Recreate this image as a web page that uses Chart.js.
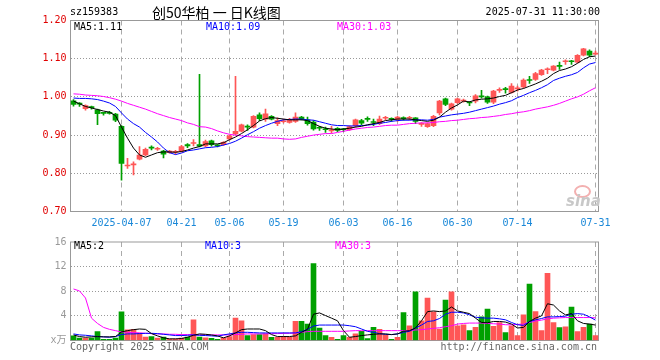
<!DOCTYPE html>
<html lang="zh">
<head>
<meta charset="UTF-8" />
<title>sz159383 日K线图</title>
<script src="https://cdn.jsdelivr.net/npm/chart.js"></script>
<style>
  body { margin: 0; background: #fff; }
  #wrap { position: relative; width: 660px; height: 360px; overflow: hidden;
          font-family: "DejaVu Sans Mono", monospace; font-size: 10px; }
  #wrap canvas { position: absolute; left: 0; }
  .t { position: absolute; white-space: nowrap; line-height: 12px; }
</style>
</head>
<body>
<div id="wrap">
  <canvas id="kline" width="660" height="232" style="top:0"></canvas>
  <canvas id="vol" width="660" height="128" style="top:232px"></canvas>

  <!-- header -->
  <div class="t" style="left:70px;top:6px;color:#000">sz159383</div>
  <div class="t" style="left:152px;top:3px;font-family:'Noto Sans CJK SC';font-size:14px;line-height:18px;color:#000">创50华柏 一 日K线图</div>
  <div class="t" style="right:60px;top:6px;color:#000">2025-07-31 11:30:00</div>

  <!-- MA legends -->
  <div class="t" style="left:74px;top:21px;color:#000">MA5:1.11</div>
  <div class="t" style="left:206px;top:21px;color:#0000ff">MA10:1.09</div>
  <div class="t" style="left:337px;top:21px;color:#ff00ff">MA30:1.03</div>
  <div class="t" style="left:74px;top:240px;color:#000">MA5:2</div>
  <div class="t" style="left:205px;top:240px;color:#0000ff">MA10:3</div>
  <div class="t" style="left:335px;top:240px;color:#ff00ff">MA30:3</div>

  <!-- watermark -->
  <div class="t" style="left:574px;top:185px;width:13px;height:9px;border:2px solid #f3b0b0;border-radius:50%"></div>
  <div class="t" style="left:566px;top:193px;font-family:'DejaVu Sans';font-size:15px;line-height:16px;font-weight:bold;font-style:italic;color:#c8c8c8">sina</div>

  <!-- footer -->
  <div class="t" style="left:70px;top:341px;color:#666">Copyright 2025 SINA.COM</div>
  <div class="t" style="right:63px;top:341px;color:#666">http://finance.sina.com.cn</div>
</div>

<script>
  // trading days shown on the chart
  const dates = [
    '03-25','03-26','03-27','03-28','03-31',
    '04-01','04-02','04-03','04-07','04-08','04-09','04-10','04-11','04-14','04-15','04-16','04-17','04-18',
    '04-21','04-22','04-23','04-24','04-25','04-28','04-29','04-30',
    '05-06','05-07','05-08','05-09','05-12','05-13','05-14','05-15','05-16','05-19','05-20','05-21','05-22','05-23',
    '05-26','05-27','05-28','05-29','05-30',
    '06-03','06-04','06-05','06-06','06-09','06-10','06-11','06-12','06-13','06-16','06-17','06-18','06-19','06-20',
    '06-23','06-24','06-25','06-26','06-27','06-30',
    '07-01','07-02','07-03','07-04','07-07','07-08','07-09','07-10','07-11','07-14','07-15','07-16','07-17','07-18',
    '07-21','07-22','07-23','07-24','07-25','07-28','07-29','07-30','07-31'
  ];
  const tickDates = ['04-07','04-21','05-06','05-19','06-03','06-16','06-30','07-14','07-31'];
  const tickText  = ['2025-04-07','04-21','05-06','05-19','06-03','06-16','06-30','07-14','07-31'];

  const open = [
    .990,.982,.969,.974,.966,.958,.958,.955,.923,.819,.822,.837,.848,.868,.863,.858,.854,.855,.857,.875,.878,.875,
    .872,.885,.873,.875,.890,.903,.910,.922,.921,.953,.942,.949,.930,.935,.933,.936,.947,.940,.934,.920,.916,
    .911,.918,.915,.914,.925,.938,.943,.935,.930,.944,.943,.942,.944,.944,.945,.928,.922,.925,.958,.995,.968,.985,
    .989,.985,.989,1.002,1.000,.986,1.017,1.021,1.012,1.021,1.026,1.045,1.046,1.058,1.071,1.070,1.081,1.092,1.093,1.091,1.109,1.120,1.112
  ];
  const high = [
    .993,.985,.979,.976,.968,.958,.962,.957,.925,.839,.830,.870,.866,.872,.868,.860,.860,.860,.873,.878,.888,1.059,
    .887,.887,.875,.883,.900,1.054,.929,.927,.951,.958,.968,.951,.945,.942,.944,.958,.949,.947,.938,.923,.921,
    .923,.920,.918,.924,.942,.941,.948,.942,.950,.949,.945,.949,.948,.949,.946,.933,.932,.952,.991,.997,.984,.997,
    .994,.988,1.006,1.017,1.002,1.017,1.024,1.025,1.035,1.028,1.047,1.054,1.064,1.072,1.076,1.082,1.091,1.097,1.096,1.111,1.127,1.123,1.120
  ];
  const low = [
    .976,.975,.965,.968,.927,.952,.955,.935,.782,.813,.796,.835,.846,.861,.860,.840,.853,.850,.855,.867,.872,.869,
    .869,.871,.869,.873,.887,.900,.908,.912,.919,.938,.936,.940,.925,.932,.931,.933,.940,.926,.913,.912,.907,
    .905,.909,.909,.912,.921,.927,.936,.925,.927,.940,.936,.936,.939,.940,.930,.923,.920,.922,.953,.977,.965,.983,
    .986,.977,.984,.997,.983,.982,1.012,1.010,1.010,1.015,1.023,1.035,1.043,1.056,1.061,1.068,1.072,1.085,1.085,1.089,1.107,1.105,1.110
  ];
  const close = [
    .980,.981,.977,.972,.956,.957,.957,.939,.826,.820,.824,.848,.863,.866,.864,.850,.858,.856,.870,.872,.880,.871,
    .883,.875,.872,.881,.898,.910,.927,.921,.949,.943,.956,.942,.938,.937,.940,.947,.942,.930,.916,.918,.914,
    .913,.912,.914,.922,.940,.931,.941,.933,.942,.945,.941,.947,.943,.945,.936,.929,.930,.949,.989,.980,.982,.995,
    .991,.984,1.003,1.000,.986,1.015,1.019,1.019,1.028,1.022,1.044,1.043,1.061,1.070,1.072,1.081,1.080,1.093,1.092,1.109,1.126,1.109,1.114
  ];

  // moving averages as drawn on the price panel
  const ma5 = [
    .989,.982,.975,.971,.967,.963,.960,.951,.921,.892,.866,.848,.842,.848,.854,.856,.856,.855,.857,.861,.866,.870,
    .877,.877,.877,.880,.888,.895,.904,.914,.925,.937,.943,.946,.944,.942,.940,.940,.940,.938,.930,.923,.918,
    .916,.914,.916,.918,.921,.923,.927,.930,.933,.938,.940,.942,.942,.942,.940,.938,.936,.939,.947,.960,.971,.979,
    .989,.987,.992,.994,.995,.997,1.001,1.004,1.011,1.018,1.022,1.028,1.034,1.041,1.049,1.061,1.069,1.073,1.079,1.088,1.098,1.105,1.107
  ];
  const ma10 = [
    .997,.996,.996,.995,.993,.989,.984,.975,.958,.942,.930,.921,.907,.895,.882,.866,.854,.849,.853,.859,.861,.864,
    .867,.868,.870,.874,.878,.884,.892,.901,.909,.918,.925,.931,.936,.940,.941,.942,.942,.940,.939,.935,.931,
    .927,.925,.925,.924,.924,.925,.926,.928,.931,.933,.936,.938,.939,.939,.940,.940,.939,.941,.947,.950,.953,.955,
    .957,.960,.964,.968,.972,.976,.981,.985,.990,.998,1.004,1.011,1.017,1.024,1.032,1.043,1.049,1.054,1.058,1.064,1.076,1.086,1.090
  ];
  const ma30 = [
    1.008,1.007,1.005,1.004,1.003,1.001,.998,.994,.989,.983,.978,.973,.968,.962,.956,.951,.946,.942,.938,.932,.928,.922,
    .921,.917,.911,.906,.902,.900,.898,.896,.895,.894,.893,.892,.892,.890,.889,.890,.894,.897,.900,.902,.904,
    .904,.907,.910,.913,.916,.918,.920,.921,.923,.925,.926,.926,.928,.930,.931,.932,.932,.933,.935,.936,.938,.939,
    .941,.943,.944,.946,.947,.949,.951,.954,.956,.959,.961,.964,.968,.971,.974,.978,.983,.989,.995,1.000,1.007,1.016,1.024
  ];

  // volume panel (x万)
  const volume = [
    .75,.4,.4,.4,1.45,.2,.2,.4,4.65,1.75,1.8,1.2,.55,.65,.4,.55,.25,.25,.4,.55,3.35,.55,.45,.37,.2,
    .43,.64,3.63,3.2,.8,.96,.96,1.07,.53,.53,.64,.53,3.1,3.1,2.67,12.5,2.0,.8,.53,.2,.8,.53,1.07,1.5,.3,
    2.13,1.8,.96,.2,.53,4.53,2.4,7.9,3.2,6.9,4.64,1.87,6.56,7.9,2.4,2.56,1.6,2.13,3.84,5.12,2.3,2.93,1.28,2.4,
    .8,4.16,9.17,4.7,1.6,10.93,2.93,2.08,2.24,5.44,1.44,2.13,2.67,.8
  ];
  const volMa5 = [
    .9,.64,.53,.59,.64,.59,.59,.64,1.39,1.6,1.76,1.87,1.81,1.12,.75,.43,.27,.27,.32,.53,.85,1.07,1.01,.9,.75,
    .43,.75,1.23,1.76,1.87,1.87,1.87,1.6,.96,.64,.64,.64,.75,1.33,1.81,4.27,4.48,4.05,3.63,3.2,1.6,.53,.64,.8,.91,
    1.01,1.07,1.07,.96,1.07,1.49,1.6,2.03,3.2,4.69,4.8,4.69,4.8,5.44,4.8,4.59,4.37,3.63,2.93,2.88,3.09,3.09,2.99,2.67,
    2.03,2.13,3.09,3.63,4.0,5.97,5.76,4.8,4.16,4.37,3.2,2.77,2.67,2.51
  ];
  const volMa10 = [
    1.07,.91,.85,.75,.64,.59,.53,.64,.96,1.07,1.07,1.12,1.17,1.17,1.12,1.01,.91,.8,.8,.85,.91,.85,.8,.75,.69,
    .91,1.07,1.23,1.33,1.33,1.28,1.23,1.23,1.23,1.23,1.23,1.23,1.23,1.44,1.81,2.35,2.51,2.51,2.51,2.51,2.51,2.4,2.24,1.87,1.49,
    1.33,1.12,1.01,.96,1.07,1.33,1.49,2.03,2.51,3.09,3.2,3.57,4.27,4.59,4.59,4.48,4.16,3.79,3.68,3.63,3.63,3.52,3.36,2.93,
    2.56,2.45,3.09,3.36,3.57,3.84,3.84,3.89,3.95,4.27,4.37,4.27,3.84,3.31
  ];
  const volMa30 = [
    8.37,8.05,6.9,3.63,2.77,2.13,1.81,1.6,1.39,1.33,1.28,1.23,1.17,1.12,1.07,1.07,1.01,1.01,.96,.96,.93,.92,.91,.91,.91,
    .91,.91,.96,1.01,1.07,1.07,1.07,1.07,1.12,1.12,1.17,1.17,1.23,1.33,1.44,1.49,1.49,1.49,1.49,1.49,1.49,1.55,1.6,1.6,1.6,
    1.6,1.6,1.6,1.6,1.6,1.6,1.6,1.71,1.76,1.87,1.97,2.08,2.24,2.4,2.67,2.77,2.83,2.83,2.83,2.77,2.72,2.67,2.56,2.56,
    2.61,2.67,2.93,3.15,3.31,3.52,3.63,3.68,3.73,3.73,3.73,3.73,3.73,3.68
  ];

  const RED = '#ff5656', GREEN = '#00a000';
  const barColors = close.map((c, i) => c >= open[i] ? RED : GREEN);
  const tickIdx = new Set(tickDates.map(d => dates.indexOf(d)));

  Chart.defaults.font.family = "'DejaVu Sans Mono', 'Noto Sans CJK SC', monospace";
  Chart.defaults.font.size = 10;

  // grey box round the plot area
  const frame = {
    id: 'frame',
    beforeDatasetsDraw(chart) {
      const { ctx, chartArea: a } = chart;
      ctx.save();
      ctx.strokeStyle = '#999';
      ctx.lineWidth = 1;
      ctx.strokeRect(a.left, a.top, a.right - a.left, a.bottom - a.top);
      ctx.restore();
    }
  };

  const xGrid = {
    offset: false,
    drawTicks: false,
    color: c => tickIdx.has(c.index) ? '#aaa' : 'rgba(0,0,0,0)'
  };

  const baseOpts = {
    responsive: false,
    animation: false,
    events: [],
    plugins: { legend: { display: false }, tooltip: { enabled: false } }
  };

  const maLine = (data, color) => ({
    type: 'line', data, borderColor: color, borderWidth: 1,
    pointRadius: 0, fill: false, tension: 0, order: 0
  });

  // price / candlestick panel
  new Chart(document.getElementById('kline'), {
    type: 'bar',
    data: {
      labels: dates,
      datasets: [
        maLine(ma5, '#000000'),
        maLine(ma10, '#0000ff'),
        maLine(ma30, '#ff00ff'),
        {
          data: dates.map((d, i) => [open[i], close[i]]),
          backgroundColor: barColors, borderWidth: 0,
          barThickness: 5, minBarLength: 1, grouped: false, order: 1
        },
        {
          data: dates.map((d, i) => [low[i], high[i]]),
          backgroundColor: barColors, borderWidth: 0,
          barThickness: 1, grouped: false, order: 2
        }
      ]
    },
    options: {
      ...baseOpts,
      layout: { padding: { top: 20.5, right: 61.5, bottom: 0, left: 0 } },
      scales: {
        x: {
          afterFit: s => { s.height = 20.5; },
          grid: xGrid,
          border: { display: false, dash: [5, 4] },
          ticks: {
            autoSkip: false, maxRotation: 0, minRotation: 0, padding: 5.5, color: '#1a88d8',
            callback: (v, i) => tickIdx.has(i) ? tickText[tickDates.indexOf(dates[i])] : ''
          }
        },
        y: {
          min: 0.7, max: 1.2,
          afterFit: s => { s.width = 70.5; },
          grid: {
            drawTicks: false,
            color: c => (c.index === 0 || c.index === 5) ? 'rgba(0,0,0,0)' : '#999'
          },
          border: { display: false, dash: [1, 2] },
          ticks: { stepSize: 0.1, padding: 4, color: '#e00000', callback: v => v.toFixed(2) }
        }
      }
    },
    plugins: [frame]
  });

  // volume panel
  new Chart(document.getElementById('vol'), {
    type: 'bar',
    data: {
      labels: dates,
      datasets: [
        maLine(volMa5, '#000000'),
        maLine(volMa10, '#0000ff'),
        maLine(volMa30, '#ff00ff'),
        {
          data: volume, backgroundColor: barColors, borderWidth: 0,
          barThickness: 5, grouped: false, order: 1
        }
      ]
    },
    options: {
      ...baseOpts,
      layout: { padding: { top: 8.5, right: 61.5, bottom: 0, left: 0 } },
      scales: {
        x: {
          afterFit: s => { s.height = 19.5; },
          grid: xGrid,
          border: { display: false, dash: [5, 4] },
          ticks: { display: false, autoSkip: false }
        },
        y: {
          min: 0, max: 16,
          afterFit: s => { s.width = 70.5; },
          grid: {
            drawTicks: false,
            color: c => (c.index === 0 || c.index === 4) ? 'rgba(0,0,0,0)' : '#999'
          },
          border: { display: false, dash: [1, 2] },
          ticks: { stepSize: 4, padding: 4, color: '#999', callback: v => v === 0 ? 'x万' : v }
        }
      }
    },
    plugins: [frame]
  });
</script>
</body>
</html>
